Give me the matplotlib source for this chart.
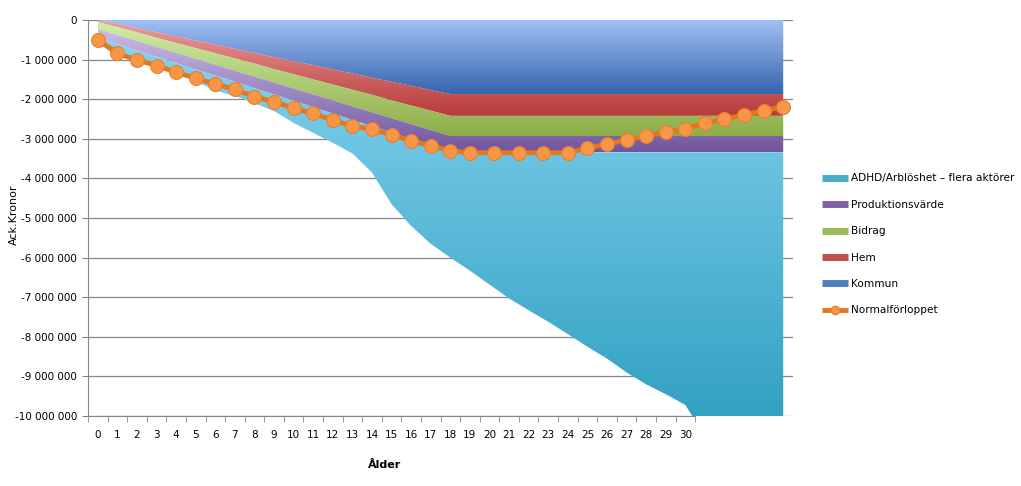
import numpy as np
import matplotlib
matplotlib.use("Agg")
import matplotlib.pyplot as plt
from matplotlib.colors import LinearSegmentedColormap
from matplotlib.lines import Line2D
from matplotlib.ticker import FuncFormatter

MILJON = 1e6

alder = list(range(36))
alder_labels = [str(a) for a in range(31)]

# kostnad per lager (miljoner kr, negativ riktning), stackat uppifrån och ned
kommun = [0, .10, .21, .31, .42, .52, .62, .73, .83, .94, 1.04, 1.14, 1.25, 1.35, 1.46, 1.56, 1.66, 1.77, 1.87,
          1.87, 1.87, 1.87, 1.87, 1.87, 1.87, 1.87, 1.87, 1.87, 1.87, 1.87, 1.87, 1.87, 1.87, 1.87, 1.87, 1.87]
hem = [.05, .08, .10, .14, .16, .19, .22, .24, .27, .30, .33, .36, .38, .41, .43, .47, .50, .52, .55,
       .55, .55, .55, .55, .55, .55, .55, .55, .55, .55, .55, .55, .55, .55, .55, .55, .55]
bidrag = [.18, .20, .22, .23, .25, .27, .29, .31, .33, .34, .36, .38, .40, .42, .44, .45, .47, .49, .51,
          .51, .51, .51, .51, .51, .51, .51, .51, .51, .51, .51, .51, .51, .51, .51, .51, .51]
produktion = [.22, .23, .24, .25, .26, .27, .27, .28, .29, .30, .31, .32, .33, .34, .35, .36, .37, .39, .41,
              .41, .41, .41, .41, .41, .41, .41, .41, .41, .41, .41, .41, .41, .41, .41, .41, .41]
adhd = [.10, .24, .25, .25, .26, .30, .38, .36, .38, .42, .56, .65, .74, .85, 1.17, 1.81, 2.20, 2.48, 2.66,
        2.99, 3.34, 3.69, 3.99, 4.28, 4.59, 4.91, 5.21, 5.56, 5.86, 6.11, 6.38, 7.16, 7.26, 7.56, 7.86, 8.16]

# Normalförloppet
normal_x = list(range(19)) + [19, 20.25, 21.5, 22.75, 24] + list(range(25, 36))
normal_y = [.505, .84, 1.01, 1.15, 1.32, 1.47, 1.62, 1.75, 1.94, 2.06, 2.23, 2.36, 2.53, 2.68, 2.76, 2.90,
            3.05, 3.17, 3.30, 3.35, 3.35, 3.35, 3.35, 3.35, 3.24, 3.13, 3.03, 2.93, 2.84, 2.74, 2.61, 2.50,
            2.40, 2.29, 2.19]

series = [("Kommun", kommun, "#a3c0f5", "#3565ae", "#4f81bd"),
          ("Hem", hem, "#ee9c9b", "#b73b3a", "#c0504d"),
          ("Bidrag", bidrag, "#d2eda6", "#8dae48", "#9bbb59"),
          ("Produktionsvärde", produktion, "#c9bde6", "#71559e", "#8064a2"),
          ("ADHD/Arblöshet \u2013 flera aktörer", adhd, "#84d3ee", "#33a1c3", "#4bacc6")]

fig = plt.figure(figsize=(10.21, 4.86), dpi=100)
ax = fig.add_axes([88 / 1021, 1 - 416 / 486, (793 - 88) / 1021, 396 / 486])

vals = [-np.array(s[1]) * MILJON for s in series]
polys = ax.stackplot(alder, *vals)

# gradient per lager, klippt till ytan
bottom = np.zeros(len(alder))
for poly, (name, v, ctop, cbot, cmid) in zip(polys, series):
    top = bottom.copy()
    bottom = bottom - np.array(v) * MILJON
    y_top = top.max()
    y_bot = max(bottom.min(), -10 * MILJON)
    cmap = LinearSegmentedColormap.from_list(name, [ctop, cbot])
    g = np.linspace(0, 1, 256).reshape(-1, 1)
    im = ax.imshow(g, cmap=cmap, aspect="auto", origin="upper",
                   extent=(0, 35, y_bot, y_top), zorder=1, interpolation="bilinear")
    im.set_clip_path(poly.get_paths()[0], transform=ax.transData)
    poly.set_visible(False)

ax.plot(normal_x, -np.array(normal_y) * MILJON, "-", color="#e3771f", linewidth=3.5, zorder=3)
ax.plot(normal_x, -np.array(normal_y) * MILJON, "o", markersize=10, markerfacecolor="#f79646",
        markeredgecolor="#e5812f", markeredgewidth=0.8, zorder=4)

ax.set_xlim(-0.5, 35.5)
ax.set_ylim(-10 * MILJON, 0)

ax.set_yticks(np.arange(-10, 1) * MILJON)
ax.yaxis.set_major_formatter(FuncFormatter(lambda v, p: f"{int(round(v)):,}".replace(",", " ")))
ax.yaxis.grid(color="#878787", linewidth=0.9)
ax.set_axisbelow(True)

ax.set_xticks(range(31))
ax.set_xticklabels(alder_labels)
ax.set_xticks(np.arange(-0.5, 31, 1), minor=True)
ax.tick_params(axis="x", which="major", length=0, pad=10, labelsize=7.5)
ax.tick_params(axis="x", which="minor", length=4, color="#868686", direction="out")
ax.tick_params(axis="y", length=4, color="#868686", labelsize=7.5, pad=4)

for s in ["top", "right"]:
    ax.spines[s].set_visible(False)
ax.spines["left"].set_color("#868686")
ax.spines["bottom"].set_color("#868686")
ax.spines["bottom"].set_bounds(-0.5, 30.5)

fig.text(14 / 1021, 1 - 215 / 486, "Ack.Kronor", rotation=90, ha="center", va="center", fontsize=8)
fig.text(385 / 1021, 1 - 465 / 486, "Ålder", ha="center", va="center", fontsize=8, fontweight="bold")

handles = [Line2D([0], [0], color=s[4], linewidth=5, solid_capstyle="butt") for s in reversed(series)]
handles.append(Line2D([0], [0], color="#e3771f", linewidth=3.5, marker="o", markersize=6,
                      solid_capstyle="butt", markerfacecolor="#f79646", markeredgecolor="#e5812f"))
labels = [s[0] for s in reversed(series)] + ["Normalförloppet"]
fig.legend(handles, labels, loc="upper left", bbox_to_anchor=(812 / 1021, 1 - 164 / 486),
           frameon=False, fontsize=7.6, handlelength=2.5, handletextpad=0.3, labelspacing=1.55)

fig.savefig("out.png", dpi=100)
